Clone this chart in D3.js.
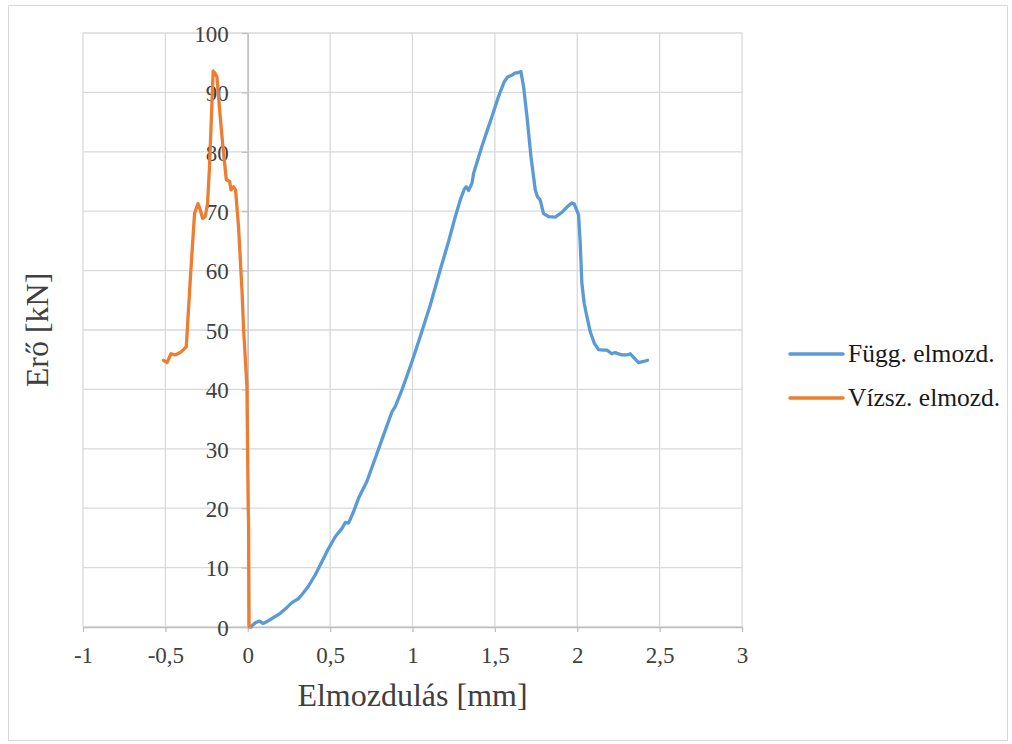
<!DOCTYPE html>
<html>
<head>
<meta charset="utf-8">
<script src="https://cdn.jsdelivr.net/npm/d3@7"></script>
<style>
  body { margin: 0; background: #fff; }
  svg text { font-family: "Liberation Serif", "Times New Roman", serif; }
</style>
</head>
<body>
<div id="chart"></div>
<script>
// Függ. elmozd. (blue)
var fuggX = [0.02, 0.025, 0.046, 0.072, 0.092, 0.116, 0.157, 0.197, 0.238, 0.268, 0.309, 0.339, 0.369, 0.41, 0.45, 0.49,
  0.531, 0.572, 0.592, 0.612, 0.642, 0.673, 0.723, 0.774, 0.824, 0.875, 0.895, 0.936, 0.997, 1.047, 1.108, 1.168,
  1.219, 1.26, 1.29, 1.314, 1.326, 1.34, 1.361, 1.371, 1.421, 1.461, 1.482, 1.522, 1.557, 1.577, 1.604, 1.624,
  1.638, 1.658, 1.674, 1.695, 1.719, 1.745, 1.759, 1.775, 1.795, 1.826, 1.866, 1.907, 1.937, 1.968, 1.982, 2.008,
  2.018, 2.028, 2.042, 2.059, 2.079, 2.103, 2.129, 2.16, 2.18, 2.21, 2.23, 2.271, 2.302, 2.322, 2.342, 2.372,
  2.403, 2.427];
var fuggY = [0, 0.2, 0.7, 1.0, 0.6, 0.9, 1.6, 2.3, 3.3, 4.1, 4.8, 5.8, 6.9, 8.8, 11.0, 13.2,
  15.2, 16.6, 17.6, 17.5, 19.4, 21.7, 24.5, 28.4, 32.3, 36.2, 37.1, 39.9, 44.7, 48.9, 54.2, 60.1,
  64.9, 69.1, 71.9, 73.7, 74.1, 73.5, 74.7, 76.4, 80.9, 84.2, 85.9, 89.3, 91.8, 92.6, 92.9, 93.3,
  93.3, 93.5, 91.0, 85.9, 79.2, 73.6, 72.4, 71.9, 69.6, 69.1, 69.0, 69.8, 70.7, 71.4, 71.2, 69.4,
  64.6, 57.9, 54.5, 52.2, 49.7, 47.8, 46.7, 46.6, 46.6, 46.0, 46.2, 45.8, 45.8, 46.0, 45.4, 44.5,
  44.7, 44.9];

// Vízsz. elmozd. (orange)
var vizszX = [-0.511, -0.49, -0.466, -0.44, -0.41, -0.39, -0.373, -0.349, -0.323, -0.302, -0.288, -0.274, -0.258,
  -0.244, -0.232, -0.222, -0.21, -0.2, -0.187, -0.167, -0.151, -0.13, -0.11, -0.102, -0.086, -0.074, -0.056,
  -0.035, -0.025, -0.019, -0.005, 0.003, 0.005, 0.008, 0.01];
var vizszY = [44.9, 44.5, 46.0, 45.8, 46.2, 46.7, 47.2, 58.4, 69.6, 71.3, 70.2, 68.8, 69.1,
  71.3, 77.5, 84.8, 93.6, 93.3, 92.6, 85.9, 80.9, 75.3, 75.0, 73.6, 74.1, 73.6, 67.4,
  56.7, 50.0, 47.2, 40.5, 20, 17.5, 0.3, 0];

var seriesNames = ["Függ. elmozd.", "Vízsz. elmozd."];
var seriesColors = ["#5B9BD5", "#ED7D31"];
var xTicks = [-1, -0.5, 0, 0.5, 1, 1.5, 2, 2.5, 3];
var yTicks = [0, 10, 20, 30, 40, 50, 60, 70, 80, 90, 100];
var xLabel = "Elmozdulás [mm]";
var yLabel = "Erő [kN]";

var svgWidth = 1012;
var svgHeight = 744;
var margin = { top: 33, right: 270, bottom: 117, left: 83 };
var width = svgWidth - margin.left - margin.right;
var height = svgHeight - margin.top - margin.bottom;
var serif = '"Liberation Serif", "Times New Roman", serif';

var huLocale = d3.formatLocale({ decimal: ",", thousands: " ", grouping: [3], currency: ["", ""], minus: "-" });
var fmt = huLocale.format("~g");

var svg = d3.select("#chart").append("svg")
  .attr("width", svgWidth)
  .attr("height", svgHeight)
  .attr("font-family", serif);

// chart border
svg.append("rect")
  .attr("x", 8.5).attr("y", 5.5)
  .attr("width", 999).attr("height", 735)
  .attr("fill", "none")
  .attr("stroke", "#d9d9d9");

var g = svg.append("g")
  .attr("transform", `translate(${margin.left}, ${margin.top})`);

var x = d3.scaleLinear().domain([-1, 3]).range([0, width]);
var y = d3.scaleLinear().domain([0, 100]).range([height, 0]);

// gridlines
g.append("g").selectAll("line").data(xTicks).enter().append("line")
  .attr("x1", d => x(d)).attr("x2", d => x(d))
  .attr("y1", 0).attr("y2", height)
  .attr("stroke", "#d9d9d9").attr("stroke-width", 1.3);
g.append("g").selectAll("line").data(yTicks).enter().append("line")
  .attr("x1", 0).attr("x2", width)
  .attr("y1", d => y(d)).attr("y2", d => y(d))
  .attr("stroke", "#d9d9d9").attr("stroke-width", 1.3);

// x axis
var xAxisG = g.append("g")
  .attr("transform", `translate(0, ${height})`)
  .call(d3.axisBottom(x).tickValues(xTicks).tickFormat(fmt).tickSize(5).tickPadding(15).tickSizeOuter(0));

// y axis at x = 0
var yAxisG = g.append("g")
  .attr("transform", `translate(${x(0)}, 0)`)
  .call(d3.axisLeft(y).tickValues(yTicks).tickFormat(fmt).tickSize(6).tickPadding(13).tickSizeOuter(0));

[xAxisG, yAxisG].forEach(function (a) {
  a.attr("font-family", serif).attr("font-size", 23);
  a.select(".domain").attr("stroke", "#bfbfbf").attr("stroke-width", 1.3);
  a.selectAll(".tick line").attr("stroke", "#bfbfbf").attr("stroke-width", 1.3);
  a.selectAll(".tick text").attr("fill", "#404040");
});
yAxisG.selectAll(".tick text").attr("dy", "0.36em");

// lines
var line = d3.line().x(d => x(d[0])).y(d => y(d[1]));
var fuggData = fuggX.map((v, i) => [v, fuggY[i]]);
var vizszData = vizszX.map((v, i) => [v, vizszY[i]]);

g.append("path").datum(fuggData)
  .attr("d", line)
  .attr("fill", "none")
  .attr("stroke", seriesColors[0])
  .attr("stroke-width", 3.3)
  .attr("stroke-linejoin", "round")
  .attr("stroke-linecap", "round");

g.append("path").datum(vizszData)
  .attr("d", line)
  .attr("fill", "none")
  .attr("stroke", seriesColors[1])
  .attr("stroke-width", 3.3)
  .attr("stroke-linejoin", "round")
  .attr("stroke-linecap", "round");

// axis titles
svg.append("text")
  .attr("x", margin.left + width / 2)
  .attr("y", 706)
  .attr("text-anchor", "middle")
  .attr("fill", "#404040")
  .attr("font-size", 32)
  .text(xLabel);

svg.append("text")
  .attr("transform", `translate(48, ${margin.top + height / 2}) rotate(-90)`)
  .attr("text-anchor", "middle")
  .attr("fill", "#404040")
  .attr("font-size", 32)
  .text(yLabel);

// legend
var legend = svg.append("g").selectAll("g")
  .data(seriesNames).enter().append("g")
  .attr("transform", (d, i) => `translate(790, ${354 + i * 44})`);
legend.append("line")
  .attr("x1", 0).attr("x2", 53)
  .attr("stroke", (d, i) => seriesColors[i])
  .attr("stroke-width", 3.5)
  .attr("stroke-linecap", "round");
legend.append("text")
  .attr("x", 58)
  .attr("dy", "0.32em")
  .attr("fill", "#1a1a1a")
  .attr("font-size", 25.5)
  .text(d => d);
</script>
</body>
</html>
